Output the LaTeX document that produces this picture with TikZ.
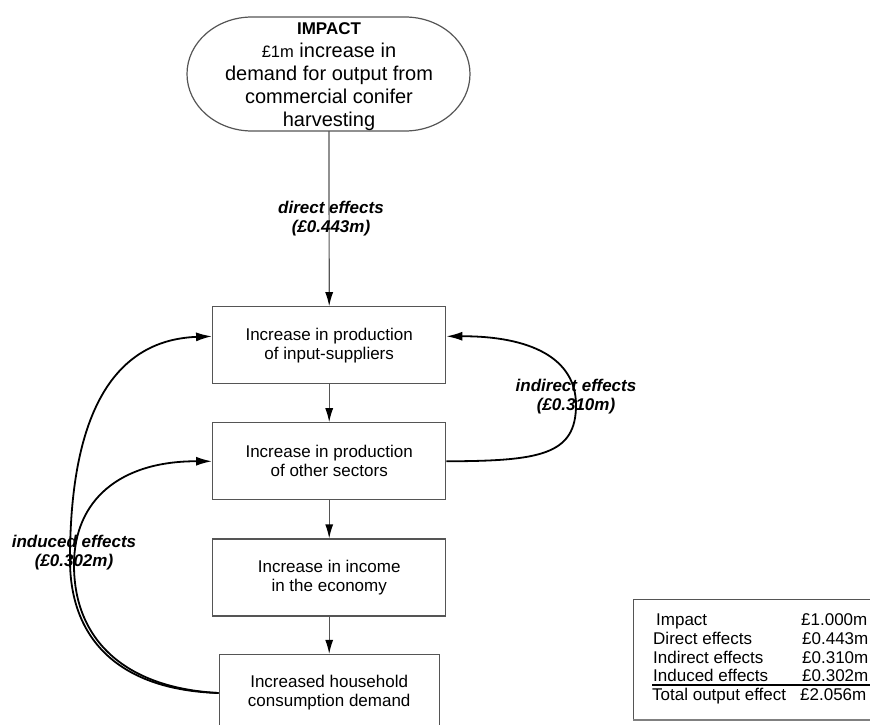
\documentclass[tikz,border=0pt]{standalone}
\usepackage{fontspec}
\setmainfont{Liberation Sans}
\usetikzlibrary{arrows.meta}
\definecolor{boxgray}{RGB}{85,85,85}
\begin{document}
\begin{tikzpicture}[x=1pt,y=-1pt,
  box/.style={draw=boxgray, line width=1.2pt, minimum width=233pt, minimum height=77pt, align=center, font=\fontsize{17}{19}\selectfont, inner sep=0pt},
  flow/.style={draw=boxgray, line width=1.2pt, -{Latex[length=14pt,width=8pt,color=black]}},
  loopline/.style={draw=black, line width=1.8pt, -{Latex[length=16pt,width=9pt]}},
  lbl/.style={font=\fontsize{17}{19}\selectfont\bfseries\itshape, align=center, inner sep=0pt},
  tbl/.style={font=\fontsize{17}{19}\selectfont, anchor=base west, inner sep=0pt}]
\clip (0,0) rectangle (870,725);
\fill[white] (0,0) rectangle (870,725);
% impact stadium
\draw[boxgray, line width=1.2pt] (252,17) -- (405,17) arc[start angle=90, end angle=-90, x radius=65pt, y radius=57pt] -- (252,131) arc[start angle=270, end angle=90, x radius=65pt, y radius=57pt] -- cycle;
\node[align=center, inner sep=0pt, font=\fontsize{20}{23}\selectfont] (impact) at (329,77)
  {{\fontsize{17}{23}\selectfont\bfseries IMPACT}\\{\fontsize{16.5}{23}\selectfont £1m} increase in\\demand for output from\\commercial conifer\\harvesting};
\coordinate (impbot) at (329,131);
% boxes
\node[box] (b1) at (329.2,345.3) {Increase in production\\of input-suppliers};
\node[box] (b2) at (329.2,461.3) {Increase in production\\of other sectors};
\node[box] (b3) at (329.2,577.5) {Increase in income\\in the economy};
\node[box, minimum width=220pt] (b4) at (329.2,693) {Increased household\\consumption demand};
% straight connectors
\draw[flow] (impbot) -- (b1.north);
\draw[flow] (b1.south) -- (b2.north);
\draw[flow] (b2.south) -- (b3.north);
\draw[flow] (b3.south) -- (b4.north);
% labels
\node[lbl] (ldirect) at (331,218.5) {direct effects\\(£0.443m)};
\node[lbl] (lindirect) at (576,397) {indirect effects\\(£0.310m)};
\node[lbl] (linduced) at (74,553) {induced effects\\(£0.302m)};
% loops
\draw[loopline] (b2.east) .. controls (540,461) and (576,455) .. (576,405) .. controls (576,358) and (530,336) .. ([yshift=9pt]b1.east);
\draw[loopline] (b4.west) .. controls (120,690) and (70,640) .. (70,560) .. controls (70,420) and (110,340) .. ([yshift=9pt]b1.west);
\draw[loopline] (b4.west) .. controls (125,688) and (74,640) .. (74,565) .. controls (74,500) and (120,461) .. (b2.west);
% table
\draw[boxgray, line width=1pt] (875,599) -- (633,599) -- (633,720);
\draw[gray, line width=2.5pt] (633,720) -- (875,720);
\node[tbl] (t1a) at (656,625) {Impact};
\node[tbl] (t1b) at (801,625) {£1.000m};
\node[tbl] (t2a) at (653,644) {Direct effects};
\node[tbl] (t2b) at (802,644) {£0.443m};
\node[tbl] (t3a) at (653,663) {Indirect effects};
\node[tbl] (t3b) at (802,663) {£0.310m};
\node[tbl] (t4a) at (653,681) {Induced effects};
\node[tbl] (t4b) at (802,681) {£0.302m};
\node[tbl] (t5a) at (652,700) {Total output effect};
\node[tbl] (t5b) at (800,700) {£2.056m};
\draw[black, line width=1.5pt] (652,685) -- (872,685);
\end{tikzpicture}
\end{document}
